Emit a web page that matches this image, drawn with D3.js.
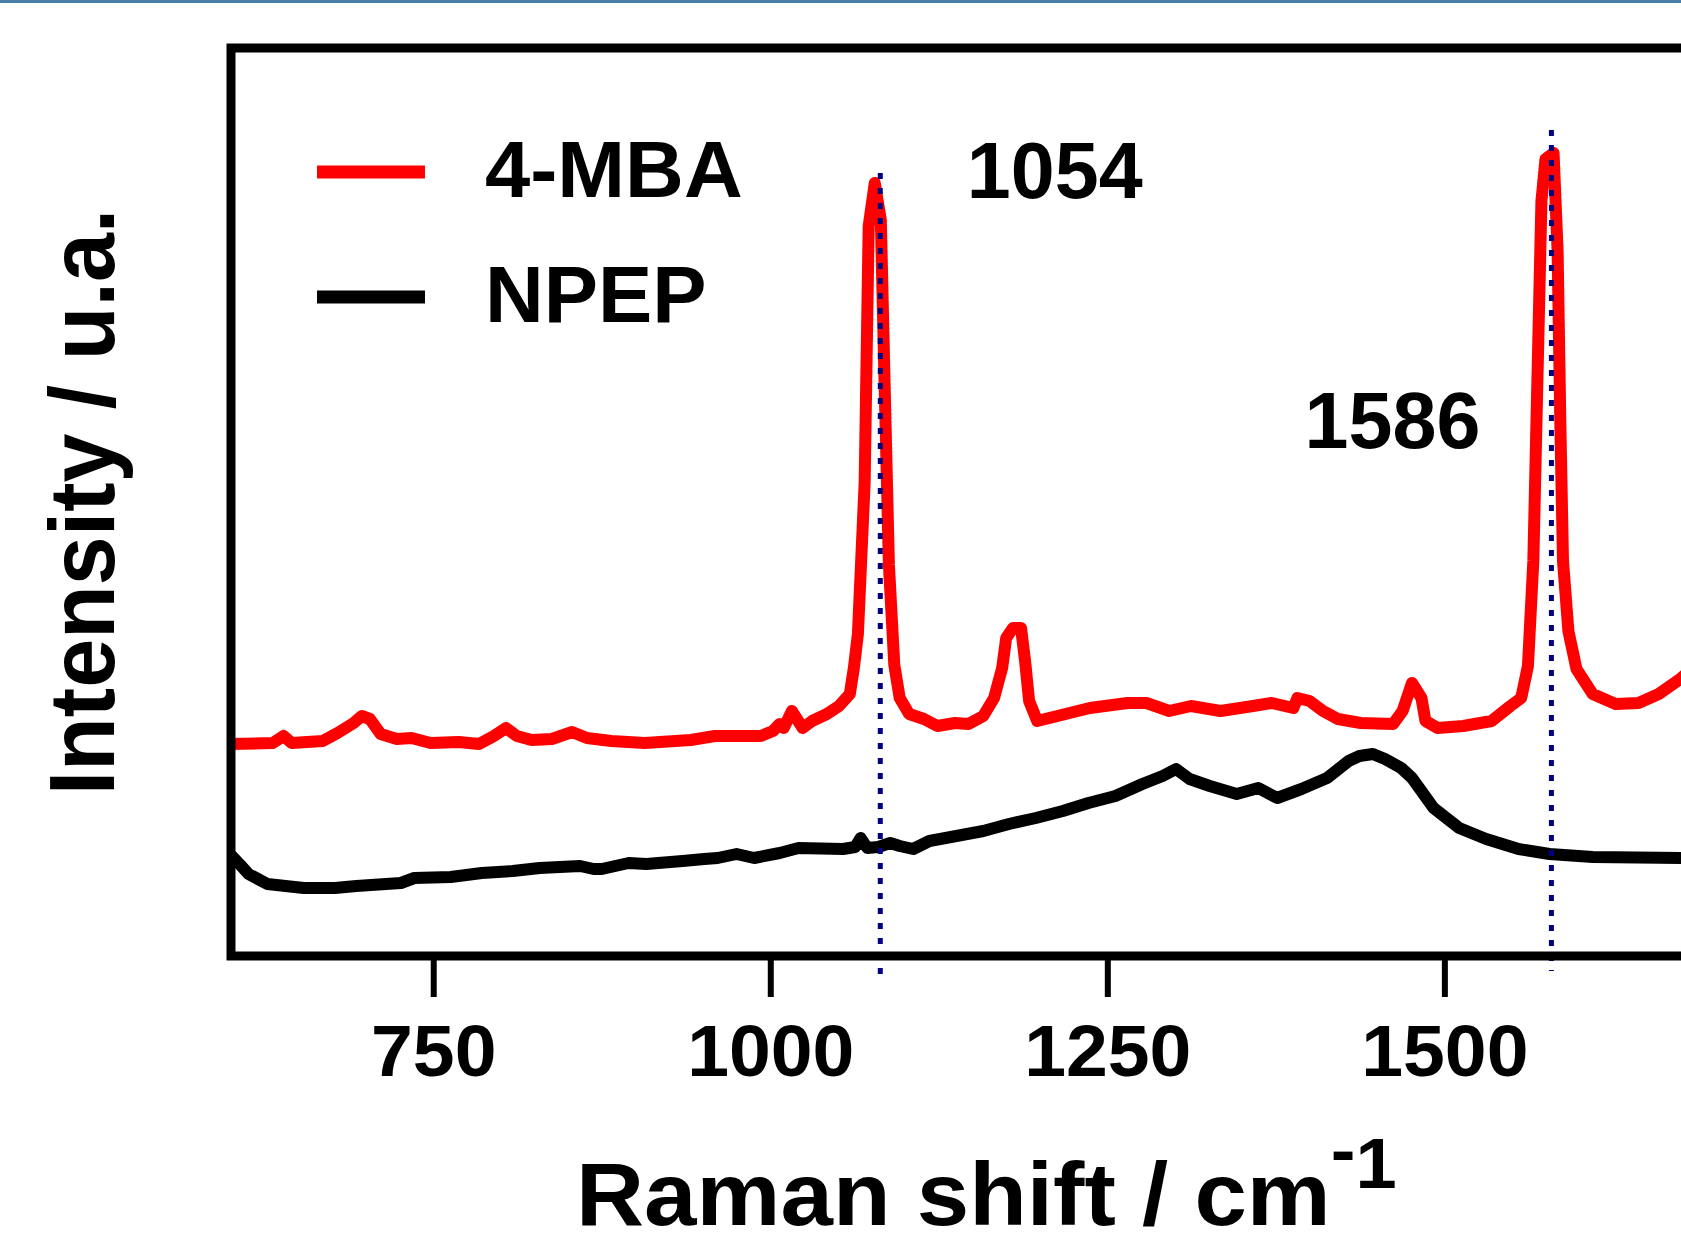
<!doctype html>
<html lang="en">
<head>
<meta charset="utf-8">
<title>Raman spectra</title>
<style>
  body { margin: 0; background: #fff; }
  svg { display: block; font-family: "Liberation Sans", Arial, sans-serif; font-weight: bold; }
</style>
</head>
<body>
<div id="chart"></div>
<script src="https://cdnjs.cloudflare.com/ajax/libs/d3/7.8.5/d3.min.js"></script>
<script>
// spectra: Raman shift (cm-1) and intensity (a.u.)
const mbaShift = [600, 631, 639, 645, 668, 679, 691, 697, 703, 711, 723, 734, 748, 769, 784, 795, 804, 812, 823, 838,
  853, 864, 882, 907, 941, 959, 993, 1002, 1007, 1010, 1016, 1024, 1031, 1042, 1051, 1059, 1062, 1065, 1070, 1073,
  1077.5, 1082, 1085, 1088, 1092, 1096, 1103, 1114, 1124, 1137, 1147, 1158, 1166, 1172, 1175, 1180, 1186, 1189, 1192, 1198,
  1213, 1237, 1265, 1279, 1296, 1312, 1334, 1358, 1372, 1388, 1391, 1400, 1410, 1421, 1438, 1462, 1469, 1476, 1483, 1486,
  1495, 1514, 1535, 1549, 1557, 1562, 1566, 1569, 1572, 1575, 1581, 1584, 1586, 1588, 1592, 1598, 1610, 1627, 1644, 1659,
  1675, 1690];
const mbaInt = [211, 212, 219, 212, 214, 222, 232, 239, 236, 221, 216, 217, 212, 213, 211, 219, 227, 219, 215, 216,
  223, 217, 214, 212, 215, 219, 219, 224, 231, 227, 244, 227, 234, 241, 249, 261, 287, 321, 472, 729,
  772, 735, 560, 390, 290, 257, 241, 236, 229, 232, 231, 239, 257, 287, 317, 327, 327, 294, 254, 234,
  239, 247, 252, 252, 244, 249, 244, 249, 252, 247, 257, 254, 244, 236, 232, 231, 244, 272, 257, 234,
  227, 229, 234, 249, 257, 289, 394, 574, 754, 796, 802, 704, 534, 394, 324, 286, 261, 251, 252, 261,
  276, 294];

const npepShift = [600, 607, 613, 627, 654, 677, 693, 726, 736, 763, 786, 809, 829, 859, 869, 875, 895, 908, 935, 951,
  961, 975, 988, 1007, 1021, 1054, 1063, 1067, 1072, 1080, 1089, 1096, 1106, 1118, 1138, 1158, 1177, 1197, 1217, 1236,
  1256, 1276, 1291, 1301, 1311, 1326, 1346, 1362, 1376, 1394, 1413, 1429, 1437, 1447, 1456, 1468, 1476, 1492, 1511, 1531,
  1555, 1578, 1610, 1676, 1700];
const npepInt = [100, 90, 81, 71, 67, 67, 69, 72, 77, 78, 82, 84, 87, 89, 86, 86, 92, 91, 94, 96,
  97, 101, 97, 102, 107, 106, 108, 117, 107, 108, 112, 109, 106, 114, 119, 124, 131, 137, 144, 152,
  159, 171, 179, 186, 176, 169, 161, 167, 157, 166, 177, 194, 199, 201, 196, 187, 177, 147, 127, 116,
  106, 101, 98, 97, 97];

const seriesNames = ["4-MBA", "NPEP"];
const seriesColors = ["#ff0000", "#000000"];
const xTicks = [750, 1000, 1250, 1500];
const peakShift = [1081.6, 1579.4];
const peakLabels = ["1054", "1586"];

const width = 1681;
const height = 1233;
const plotLeft = 231, plotRight = 1714, plotTop = 48, plotBottom = 955;

const x = d3.scaleLinear().domain([600, 1700]).range([plotLeft, plotRight]);
const y = d3.scaleLinear().domain([0, 907]).range([plotBottom, plotTop]);

const svg = d3.select("#chart").append("svg").attr("width", width).attr("height", height);

// thin blue strip along the top edge
svg.append("rect").attr("x", 0).attr("y", 0).attr("width", width).attr("height", 3).attr("fill", "#4a7ea8");

const line = d3.line().x(d => x(d[0])).y(d => y(d[1]));

const series = [
  d3.zip(mbaShift, mbaInt),
  d3.zip(npepShift, npepInt)
];

svg.selectAll("path.spec")
  .data(series)
  .join("path")
  .attr("class", "spec")
  .attr("d", line)
  .attr("fill", "none")
  .attr("stroke", (d, i) => seriesColors[i])
  .attr("stroke-width", 12)
  .attr("stroke-linejoin", "round");

// dotted guides at the two main bands
const guideTop = [782, 825];
const guideBottom = [-28, -16];
svg.selectAll("line.guide")
  .data(peakShift)
  .join("line")
  .attr("class", "guide")
  .attr("x1", d => x(d)).attr("x2", d => x(d))
  .attr("y1", (d, i) => y(guideTop[i]))
  .attr("y2", (d, i) => y(guideBottom[i]))
  .attr("stroke", "#000080")
  .attr("stroke-width", 5)
  .attr("stroke-dasharray", "6,9");

// frame
svg.append("rect")
  .attr("x", plotLeft).attr("y", plotTop)
  .attr("width", plotRight - plotLeft).attr("height", plotBottom - plotTop + 1)
  .attr("fill", "none").attr("stroke", "#000").attr("stroke-width", 9);

// x axis ticks + labels
const xAxis = svg.append("g")
  .attr("transform", `translate(0,${plotBottom + 1})`)
  .call(d3.axisBottom(x).tickValues(xTicks).tickSize(41).tickFormat(d3.format("d")));
xAxis.select(".domain").remove();
xAxis.selectAll(".tick line").attr("stroke", "#000").attr("stroke-width", 6);
xAxis.selectAll(".tick text")
  .attr("y", null).attr("dy", null)
  .attr("transform", "translate(0,120) scale(1.03,1)")
  .attr("fill", "#000")
  .attr("font-family", "'Liberation Sans', Arial, sans-serif")
  .attr("font-weight", "bold")
  .attr("font-size", 73);

// axis titles
const xt = svg.append("text")
  .attr("transform", "translate(576,1225) scale(1.06,1)")
  .attr("font-size", 89);
xt.append("tspan").text("Raman shift / cm");
xt.append("tspan").attr("font-size", 70).attr("dy", -51).text("-");
xt.append("tspan").attr("font-size", 70).attr("dy", 14).text("1");

svg.append("text")
  .attr("transform", "translate(114,502) scale(1.06,1) rotate(-90)")
  .attr("text-anchor", "middle")
  .attr("font-size", 88)
  .text("Intensity / u.a.");

// legend
const legend = svg.selectAll("g.legend")
  .data(seriesNames)
  .join("g")
  .attr("class", "legend")
  .attr("transform", (d, i) => `translate(0,${i * 125})`);
legend.append("line")
  .attr("x1", 317).attr("x2", 425)
  .attr("y1", 172).attr("y2", 172)
  .attr("stroke", (d, i) => seriesColors[i])
  .attr("stroke-width", 13);
legend.append("text")
  .attr("transform", "translate(485,197) scale(1.03,1)")
  .attr("font-size", 79)
  .text(d => d);

// band labels
const labelPos = [[1211, 757], [1461.5, 507]];
svg.selectAll("text.band")
  .data(peakLabels)
  .join("text")
  .attr("class", "band")
  .attr("x", (d, i) => x(labelPos[i][0]))
  .attr("y", (d, i) => y(labelPos[i][1]))
  .attr("text-anchor", "middle")
  .attr("font-size", 79)
  .text(d => d);
</script>
</body>
</html>
